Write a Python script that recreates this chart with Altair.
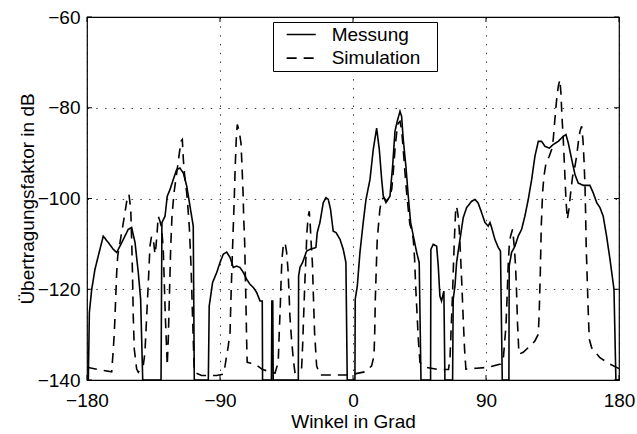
import altair as alt
import pandas as pd

# Messung (solid)
mess_x = [-180, -179.1, -178.4, -176.8, -174.6, -172.4, -169.0, -165.6, -162.2, -159.9, -157.7, -155.4,
          -152.1, -149.8, -147.5, -145.3, -143.7, -142.3,
          -129.9, -129.3, -127.2, -125.7, -123.8, -121.6, -119.3, -117.1, -114.8, -112.5, -110.3, -108.1, -107.4,
          -97.9, -97.3, -95.0, -92.2, -90.0, -87.8, -85.5, -83.2, -81.0, -78.7, -76.5, -74.2, -72.0, -69.7,
          -67.5, -65.2, -62.9, -61.4, -61.2,
          -55.2, -54.9, -54.3, -54.0,
          -37.0, -36.8, -35.9, -34.1, -31.4, -29.1, -25.1, -24.2, -22.4, -20.1, -18.3, -16.7, -15.2, -13.4,
          -11.5, -8.8, -6.6, -4.8, -3.9,
          1.3, 1.5, 2.9, 4.7, 6.9, 8.8, 11.5, 13.7, 16.0, 17.8, 19.4, 20.5, 22.3, 25.0, 26.8, 28.4, 29.9,
          31.8, 32.9, 34.0, 35.8, 37.4, 39.0, 41.3, 43.1, 44.8, 46.0,
          52.5, 52.7, 54.3, 56.6, 57.7, 58.8, 59.9, 61.5, 62.2,
          67.4, 67.8, 69.0, 70.1, 72.4, 74.6, 76.9, 80.3, 82.5, 84.7, 87.0, 89.3, 91.5, 92.7, 93.8, 96.0,
          98.3, 99.8, 101.0,
          105.5, 105.7, 107.3, 109.6, 111.8, 114.1, 116.3, 118.6, 120.9, 123.1, 125.4, 127.6, 129.9, 132.8,
          135.5, 138.9, 142.3, 144.1, 145.7, 148.0, 150.2, 152.4, 155.8, 160.3, 162.6, 164.9, 167.1, 169.3,
          171.6, 173.9, 176.6, 177.9, 180]
mess_y = [-140, -140, -125.1, -120.0, -115.6, -112.7, -108.3, -109.7, -111.2, -111.9, -110.5, -109.0,
          -106.8, -106.4, -109.7, -116.3, -122.2, -140,
          -140, -105.3, -103.9, -99.5, -98.0, -95.8, -93.6, -93.3, -94.4, -97.3, -101.7, -106.1, -140,
          -140, -123.7, -118.5, -116.3, -114.1, -112.3, -111.8, -113.0, -115.2, -114.9, -115.2, -116.3, -117.8, -118.9,
          -119.6, -120.7, -122.6, -122.6, -140,
          -140, -122.6, -122.6, -140,
          -140, -117.1, -115.2, -114.1, -111.6, -111.2, -110.8, -107.5, -105.3, -100.9, -99.8, -100.2, -102.4, -107.2,
          -107.5, -109.0, -111.2, -114.1, -140,
          -140, -122.2, -119.3, -111.9, -105.3, -100.2, -95.8, -89.2, -84.5, -89.2, -95.8, -99.5, -100.9, -99.5, -92.9, -85.2, -83.0,
          -80.8, -81.9, -87.0, -92.9, -99.5, -105.3, -109.0, -111.9, -114.1, -140,
          -140, -111.2, -110.1, -110.5, -114.9, -121.5, -122.6, -120.4, -140,
          -140, -122.2, -119.3, -114.1, -109.0, -104.2, -102.0, -100.6, -100.2, -101.0, -103.1, -105.3, -106.1, -105.3, -106.4, -109.0,
          -110.8, -111.6, -140,
          -140, -114.9, -111.9, -110.5, -108.3, -106.8, -103.9, -100.2, -95.8, -90.7, -87.4, -87.4, -88.5, -88.9,
          -88.1, -87.4, -86.3, -85.9, -87.8, -91.4, -94.7, -96.6, -97.1, -97.1, -98.8, -100.9, -102.0, -103.9,
          -108.3, -113.4, -120.0, -140, -140]

# Simulation (dashed)
sim_x = [-180, -172.4, -163.3, -162.2, -161.5, -160.6, -159.9, -159.2, -157.7, -155.8, -154.3, -153.1, -151.6,
         -150.4, -150.2, -149.6, -149.1, -148.7, -148.0, -146.4, -145.3, -141.9, -140.8, -139.7, -138.5, -137.4,
         -136.3, -135.1, -134.0, -133.3, -132.4, -131.8, -130.6, -129.5, -128.4, -127.7, -127.0, -126.1, -125.7,
         -125.0, -124.3, -123.4, -122.5, -121.1, -119.3, -117.8, -116.4, -115.5, -114.8, -114.1, -113.0, -112.1,
         -110.8, -109.6, -108.8, -108.1, -107.4, -102.5, -92.4, -87.8, -86.6, -84.4, -83.2, -82.6, -81.9, -81.0,
         -80.3, -79.7, -79.0, -78.3, -77.0, -75.8, -75.1, -74.4, -74.0, -73.3, -72.9, -72.4, -72.0, -71.6, -66.3,
         -61.2, -52.8, -50.6, -49.9, -49.2, -48.7, -48.1, -47.2, -46.0, -44.9, -44.0, -43.3, -42.7, -41.6, -40.4,
         -39.3, -34.8, -34.1, -33.4, -32.5, -31.8, -31.2, -30.3, -29.6, -28.9, -28.2, -27.5, -26.8, -26.0, -24.6,
         -22.3, -3.4, 0.5, 8.0, 10.3, 12.6, 14.2, 14.7, 15.1, 15.8, 16.4, 17.4, 18.2, 19.4, 20.9, 22.7, 24.5, 26.2,
         27.2, 28.4, 29.5, 30.6, 31.8, 32.9, 34.0, 35.2, 36.3, 37.4, 38.5, 39.7, 40.8, 41.7, 42.4, 43.3, 44.2,
         45.3, 47.5, 49.4, 57.7, 64.6, 65.6, 66.5, 67.4, 68.1, 68.8, 69.4, 70.1, 71.0, 71.9, 72.8, 73.7, 74.6,
         75.5, 76.4, 83.7, 91.5, 99.8, 101.7, 102.6, 103.5, 104.4, 105.0, 105.7, 106.6, 108.0, 109.1, 110.0,
         110.7, 111.3, 112.3, 115.2, 119.7, 123.1, 125.4, 126.0, 126.7, 127.4, 128.3, 129.2, 130.6, 132.8, 134.4,
         135.5, 136.6, 137.8, 138.9, 140.0, 140.7, 141.4, 142.3, 143.2, 144.1, 145.0, 146.1, 147.3, 148.6, 150.2,
         151.3, 152.4, 153.6, 154.7, 155.6, 156.3, 157.0, 157.4, 157.8, 158.5, 159.2, 159.9, 161.5, 167.1, 173.9, 180]
sim_y = [-137.2, -137.7, -138.2, -133.2, -129.5, -122.2, -116.3, -112.7, -109.7, -106.1, -103.1, -100.6, -99.1,
         -102.4, -104.6, -111.2, -118.5, -125.9, -133.2, -137.6, -138.3, -136.8, -133.9, -126.6, -118.5, -110.5,
         -108.3, -109.0, -112.3, -110.5, -106.8, -103.9, -105.0, -106.4, -111.2, -118.5, -125.9, -133.2, -136.8,
         -131.0, -122.2, -111.2, -103.9, -98.7, -94.4, -90.7, -87.4, -87.0, -91.4, -94.4, -97.3, -100.2,
         -106.1, -114.9, -123.7, -131.0, -138.3, -139.0, -139.0, -138.7, -136.9, -132.5, -129.5, -122.2, -114.9, -106.1,
         -99.5, -92.9, -87.0, -83.7, -85.2, -87.8, -92.9, -98.7, -103.9, -109.7, -116.3, -123.7, -131.0, -136.1, -136.5,
         -137.7, -138.5, -136.1, -129.5, -123.7, -118.5, -113.4, -110.5, -109.7, -111.9, -115.6, -120.7, -125.9, -131.0, -135.4,
         -138.3, -137.6, -132.5, -125.9, -117.8, -112.7, -107.5, -103.9, -102.8, -106.1, -110.5, -114.1, -121.5, -129.5, -136.9,
         -138.9, -138.9, -138.7, -138.2, -137.6, -136.9, -134.7, -129.5, -122.2, -114.9, -109.0, -105.3, -102.4, -100.2, -99.8, -100.6, -99.8, -98.0,
         -94.4, -89.2, -85.6, -83.4, -83.0, -84.8, -89.2, -94.4, -98.7, -102.4, -105.7, -106.8, -109.0, -113.4, -119.3, -125.1, -131.0,
         -136.1, -136.9, -137.2, -137.7, -137.7, -135.4, -128.1, -120.7, -113.4, -107.5, -103.1, -101.7, -103.5, -106.8, -112.7, -119.3, -126.6,
         -133.2, -137.6, -137.4, -137.2, -136.5, -135.4, -131.7, -128.1, -120.7, -114.9, -110.5, -108.3, -106.8, -110.5, -114.9,
         -120.7, -127.3, -134.3, -133.9, -132.5, -131.4, -129.9, -125.1, -117.1, -106.1, -98.7, -95.1, -92.2, -90.7, -89.2,
         -87.0, -82.6, -78.2, -75.3, -73.8, -76.8, -81.9, -87.0, -93.6, -100.2, -104.6, -102.4, -98.7, -95.1, -92.9,
         -90.7, -87.8, -85.2, -84.1, -87.0, -91.4, -97.3, -103.1, -110.5, -117.8, -125.1, -131.0, -132.9, -135.1, -136.5, -137.5]

series = ["Messung", "Simulation"]
x_ticks = [-180, -90, 0, 90, 180]
y_ticks = [-140, -120, -100, -80, -60]
x_title = "Winkel in Grad"
y_title = "Übertragungsfaktor in dB"

rows = []
for name, xs, ys in [(series[0], mess_x, mess_y), (series[1], sim_x, sim_y)]:
    for i, (xv, yv) in enumerate(zip(xs, ys)):
        rows.append({"winkel": xv, "db": yv, "reihe": name, "i": i})
df = pd.DataFrame(rows)

FONT = "Liberation Sans"
FS = 19
xscale = alt.Scale(domain=[-180, 180], nice=False, zero=False)
yscale = alt.Scale(domain=[-140, -60], nice=False, zero=False)
xaxis = alt.Axis(values=x_ticks, labelPadding=11, titlePadding=2)
yaxis = alt.Axis(values=y_ticks, labelPadding=7, titlePadding=0)


def X():
    return alt.X("winkel:Q", scale=xscale, title=x_title, axis=xaxis)


def Y():
    return alt.Y("db:Q", scale=yscale, title=y_title, axis=yaxis)


lines = alt.Chart(df).mark_line(color="black", strokeWidth=1.6, clip=True).encode(
    x=X(),
    y=Y(),
    strokeDash=alt.StrokeDash("reihe:N",
                              scale=alt.Scale(domain=series, range=[[1, 0], [10, 7]]),
                              legend=alt.Legend(title=None, orient="none", legendX=186, legendY=5,
                                                fillColor="white", strokeColor="black", padding=2,
                                                symbolType="M-1.53,0H1.53", symbolSize=361,
                                                symbolStrokeWidth=1.6,
                                                symbolStrokeColor="black", symbolOffset=15.7,
                                                labelFont=FONT, labelFontSize=FS, labelColor="black",
                                                labelOffset=20, rowPadding=2.6,
                                                labelExpr="datum.label + '\u2800'")),
    order="i:Q",
)

xtick_df = pd.DataFrame({"winkel": x_ticks})
ytick_df = pd.DataFrame({"db": y_ticks})

top_ticks = alt.Chart(xtick_df).mark_rule(color="black", strokeWidth=1).encode(
    x=X(), y=alt.value(0), y2=alt.value(5))
bot_ticks = alt.Chart(xtick_df).mark_rule(color="black", strokeWidth=1).encode(
    x=X(), y=alt.value(363), y2=alt.value(358))
left_ticks = alt.Chart(ytick_df).mark_rule(color="black", strokeWidth=1).encode(
    y=Y(), x=alt.value(0), x2=alt.value(5))
right_ticks = alt.Chart(ytick_df).mark_rule(color="black", strokeWidth=1).encode(
    y=Y(), x=alt.value(532), x2=alt.value(527))

chart = alt.layer(lines, top_ticks, bot_ticks, left_ticks, right_ticks).properties(
    width=532, height=363,
    autosize=alt.AutoSizeParams(type="none"),
    padding={"left": 87, "top": 17, "right": 18, "bottom": 54},
    background="white",
).configure_view(
    stroke="black", strokeWidth=1.2
).configure_axis(
    grid=True, ticks=False, domain=False, labelFlush=False,
    labelFont=FONT, labelFontSize=FS, labelColor="black",
    titleFont=FONT, titleFontSize=FS, titleFontWeight="normal", titleColor="black",
    gridColor="black", gridOpacity=0.75, gridDash=[1.5, 7.3], gridWidth=1,
)

chart.save("out.html", embed_options={"renderer": "svg", "actions": False})
